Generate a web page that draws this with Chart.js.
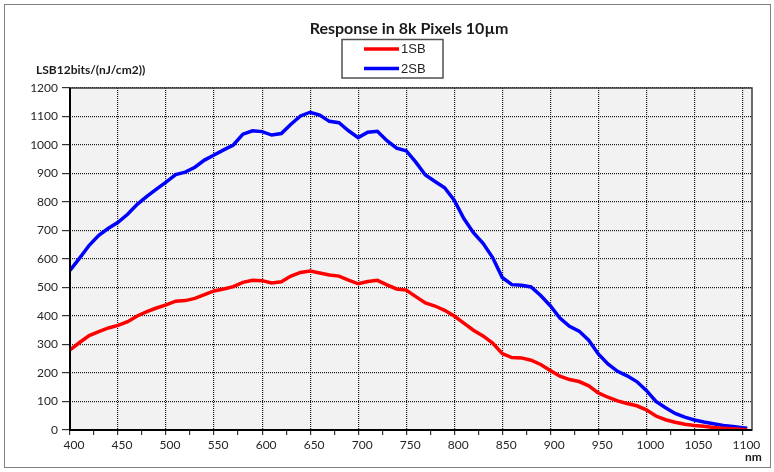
<!DOCTYPE html>
<html>
<head>
<meta charset="utf-8">
<script src="https://cdn.jsdelivr.net/npm/chart.js@4"></script>
<style>
  html, body { margin: 0; padding: 0; background: #fff; }
</style>
</head>
<body>
<canvas id="responseChart" width="774" height="472"></canvas>
<script>
// wavelength in nm, one point every 10 nm
const wavelengths = [
  400, 410, 420, 430, 440, 450, 460, 470, 480, 490,
  500, 510, 520, 530, 540, 550, 560, 570, 580, 590,
  600, 610, 620, 630, 640, 650, 660, 670, 680, 690,
  700, 710, 720, 730, 740, 750, 760, 770, 780, 790,
  800, 810, 820, 830, 840, 850, 860, 870, 880, 890,
  900, 910, 920, 930, 940, 950, 960, 970, 980, 990,
  1000, 1010, 1020, 1030, 1040, 1050, 1060, 1070, 1080, 1090,
  1100, 1105
];

const response1SB = [
  281, 307, 331, 345, 358, 367, 380, 400, 415, 428,
  439, 452, 454, 462, 475, 488, 495, 503, 518, 525,
  524, 516, 520, 540, 553, 558, 551, 544, 540, 526,
  513, 521, 525, 509, 495, 491, 468, 446, 435, 420,
  400, 375, 350, 330, 305, 268, 254, 253, 245, 230,
  209, 189, 177, 170, 155, 130, 115, 102, 93, 85,
  71, 49, 36, 27, 20, 16, 13, 9, 6, 4,
  2, 1
];

const response2SB = [
  560, 603, 648, 683, 708, 729, 757, 792, 820, 845,
  870, 896, 905, 922, 947, 965, 983, 1000, 1038, 1050,
  1047, 1035, 1040, 1073, 1102, 1115, 1105, 1083, 1078, 1050,
  1026, 1045, 1048, 1015, 989, 980, 940, 895, 872, 850,
  806, 742, 692, 655, 605, 535, 510, 508, 502, 472,
  436, 393, 364, 347, 315, 267, 232, 206, 190, 170,
  139, 100, 78, 58, 45, 35, 28, 22, 16, 12,
  8, 6
];

const xTickLabels = [400, 450, 500, 550, 600, 650, 700, 750, 800, 850, 900, 950, 1000, 1050, 1100];
const xMinorTicks = [425, 475, 525, 575, 625, 675, 725, 775, 825, 875, 925, 975, 1025, 1075];
const yTickLabels = [0, 100, 200, 300, 400, 500, 600, 700, 800, 900, 1000, 1100, 1200];

const gridColor = "rgba(0, 0, 0, 0.9)";
const tickFont = { family: "Lato", size: 12 };

// background, frame, title, legend box and unit labels
const decorations = {
  id: "decorations",
  beforeDraw(chart) {
    const ctx = chart.ctx;
    const a = chart.chartArea;
    ctx.save();
    ctx.fillStyle = "#ffffff";
    ctx.fillRect(0, 0, chart.width, chart.height);
    ctx.fillStyle = "#f2f2f2";
    ctx.fillRect(a.left, a.top, a.right - a.left, a.bottom - a.top);
    ctx.restore();
  },
  afterDraw(chart) {
    const ctx = chart.ctx;
    const a = chart.chartArea;
    ctx.save();

    // plot border
    ctx.strokeStyle = "#3c3c3c";
    ctx.lineWidth = 1.5;
    ctx.strokeRect(a.left, a.top, a.right - a.left, a.bottom - a.top);
    ctx.strokeStyle = "#000";
    ctx.lineWidth = 2;
    ctx.beginPath();
    ctx.moveTo(a.left, a.top);
    ctx.lineTo(a.left, a.bottom);
    ctx.lineTo(a.right, a.bottom);
    ctx.stroke();

    // outer frame
    ctx.strokeStyle = "#808080";
    ctx.lineWidth = 1;
    ctx.strokeRect(4.5, 4.5, 766, 463);

    // title
    ctx.fillStyle = "#1a1a1a";
    ctx.font = "bold 16px Lato";
    ctx.textAlign = "center";
    ctx.textBaseline = "alphabetic";
    ctx.fillText("Response in 8k Pixels 10µm", 409, 34);

    // legend box
    ctx.strokeStyle = "#505050";
    ctx.lineWidth = 1.5;
    ctx.strokeRect(342, 39.5, 101, 38.5);
    const entries = [
      { label: "1SB", color: "#ff0000", y: 49 },
      { label: "2SB", color: "#0000ff", y: 68.5 }
    ];
    ctx.font = "13px 'Liberation Sans'";
    ctx.textAlign = "left";
    entries.forEach(e => {
      ctx.strokeStyle = e.color;
      ctx.lineWidth = 3.5;
      ctx.beginPath();
      ctx.moveTo(364, e.y);
      ctx.lineTo(399, e.y);
      ctx.stroke();
      ctx.fillStyle = "#222";
      ctx.fillText(e.label, 401, e.y + 4);
    });

    // unit labels
    ctx.fillStyle = "#1a1a1a";
    ctx.font = "bold 12px Lato";
    ctx.fillText("LSB12bits/(nJ/cm2))", 36, 74);
    ctx.fillText("nm", 745, 461);

    ctx.restore();
  }
};

const ctx = document.getElementById("responseChart").getContext("2d");

window.responseChart = new Chart(ctx, {
  type: "line",
  data: {
    datasets: [
      {
        label: "1SB",
        data: wavelengths.map((w, i) => ({ x: w, y: response1SB[i] })),
        borderColor: "#ff0000",
        borderWidth: 3.5,
        pointRadius: 0,
        tension: 0,
        fill: false
      },
      {
        label: "2SB",
        data: wavelengths.map((w, i) => ({ x: w, y: response2SB[i] })),
        borderColor: "#0000ff",
        borderWidth: 3.5,
        pointRadius: 0,
        tension: 0,
        fill: false
      }
    ]
  },
  options: {
    responsive: false,
    animation: false,
    events: [],
    layout: { padding: { top: 88, right: 22, left: 0, bottom: 0 } },
    plugins: {
      legend: { display: false },
      title: { display: false },
      tooltip: { enabled: false }
    },
    scales: {
      x: {
        type: "linear",
        min: 400,
        max: 1110,
        afterBuildTicks: axis => {
          axis.ticks = xTickLabels.concat(xMinorTicks).sort((p, q) => p - q).map(v => ({ value: v }));
        },
        afterFit: axis => { axis.height = 42; },
        border: { display: false, dash: [1, 1] },
        grid: {
          color: c => (c.tick && xTickLabels.includes(c.tick.value) ? gridColor : "rgba(0,0,0,0)"),
          tickColor: "#333",
          tickLength: 5,
          lineWidth: 1.2
        },
        ticks: {
          autoSkip: false,
          maxRotation: 0,
          labelOffset: 4,
          padding: 3,
          color: "#262626",
          font: tickFont,
          callback: v => (xTickLabels.includes(v) ? String(v) : "")
        }
      },
      y: {
        min: 0,
        max: 1200,
        afterBuildTicks: axis => {
          axis.ticks = yTickLabels.map(v => ({ value: v }));
        },
        afterFit: axis => { axis.width = 70; },
        border: { display: false, dash: [1, 1] },
        grid: {
          color: gridColor,
          tickColor: "#333",
          tickLength: 8,
          lineWidth: 1.2
        },
        ticks: {
          padding: 4,
          color: "#262626",
          font: tickFont,
          callback: v => String(v)
        }
      }
    }
  },
  plugins: [decorations]
});
</script>
</body>
</html>
